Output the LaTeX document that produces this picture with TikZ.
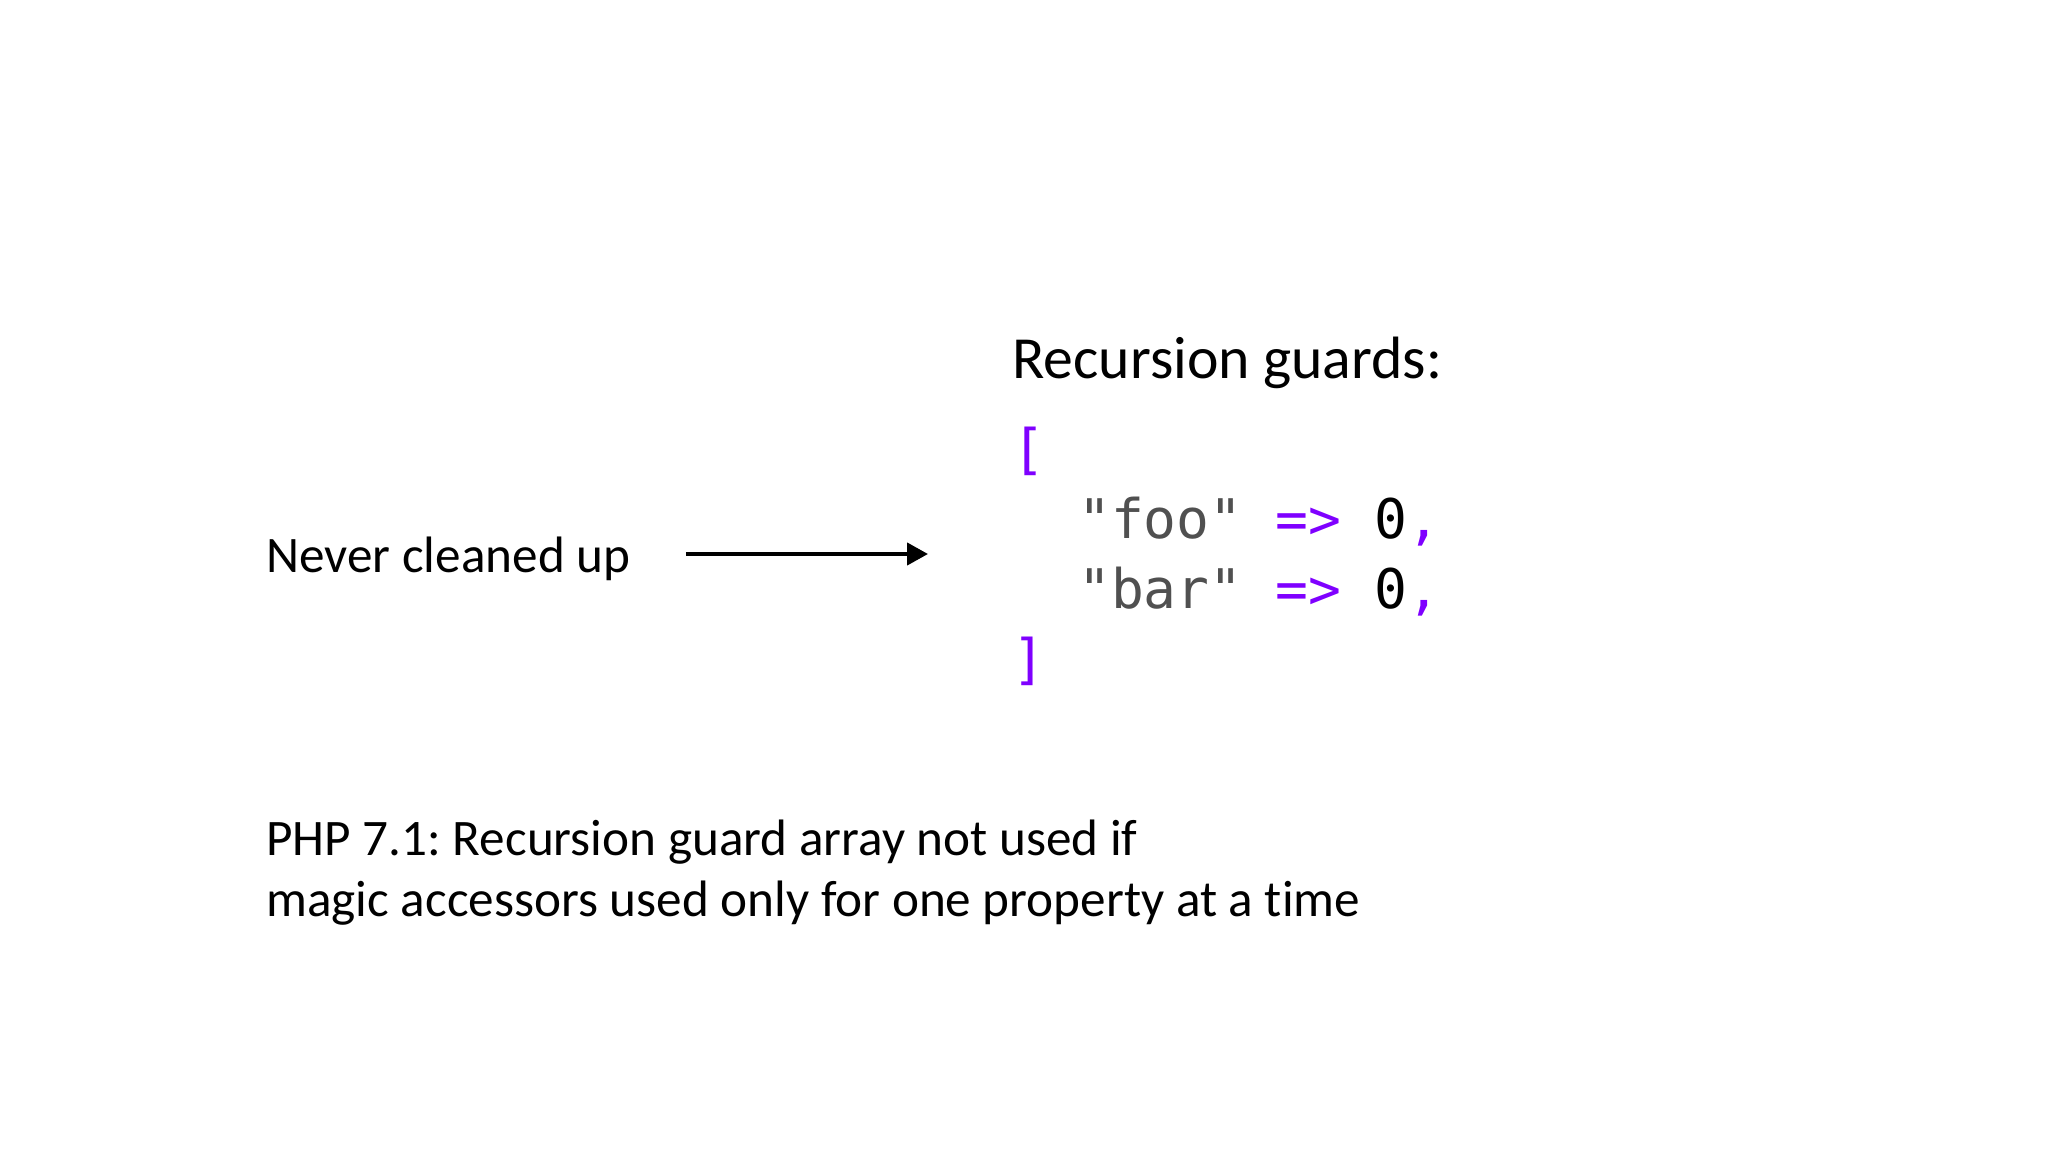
\documentclass[tikz,border=0pt]{standalone}
\usepackage{fontspec}
\setmainfont{Carlito}[Ligatures={TeX,NoCommon}]
\newfontfamily\codefont{DejaVu Sans Mono}
\usepackage{xcolor}
\usetikzlibrary{positioning}
\usetikzlibrary{arrows.meta}
\frenchspacing

\definecolor{kwpurple}{RGB}{127,0,255}
\definecolor{strgray}{RGB}{80,80,80}

\tikzset{
  label24/.style={anchor=base west, inner sep=0pt, font=\fontsize{24}{29}\selectfont},
  label28/.style={anchor=base west, inner sep=0pt, font=\fontsize{28}{34}\selectfont},
  codeline/.style={anchor=base west, inner sep=0pt, font=\codefont\fontsize{25.6}{33}\selectfont},
  pointer/.style={-{Triangle[length=9.8pt,width=10.3pt]}, line width=1.9pt, black}
}

\begin{document}
\begin{tikzpicture}[x=0.46875pt,y=-0.46875pt]

\useasboundingbox (0,0) rectangle (2048,1152);

\node[label28] (guards) at (1012,378) {Recursion guards:};

\node[codeline] (open) at (1012,468) {\textcolor{kwpurple}{[}};
\node[codeline] (foo) at (1012,538) {~~\textcolor{strgray}{"foo"} \textcolor{kwpurple}{=>} 0\textcolor{kwpurple}{,}};
\node[codeline] (bar) at (1012,608) {~~\textcolor{strgray}{"bar"} \textcolor{kwpurple}{=>} 0\textcolor{kwpurple}{,}};
\node[codeline] (close) at (1012,678) {\textcolor{kwpurple}{]}};

\node[label24] (never) at (266,572) {Never cleaned up};

\coordinate (tip) at (928,554);
\draw[pointer, shorten <=25.8pt] (never.east |- tip) -- (tip);

\node[label24] (php) at (266,855) {PHP 7.1: Recursion guard array not used if};
\node[label24] (magic) at (266,916) {magic accessors used only for one property at a time};

\end{tikzpicture}
\end{document}
